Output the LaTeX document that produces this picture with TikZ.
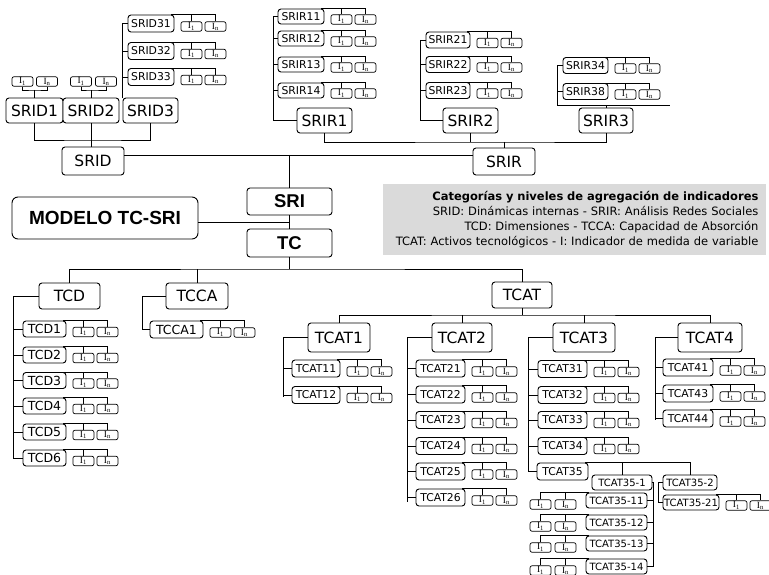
\documentclass[tikz,border=0pt]{standalone}
\usepackage{fontspec}
\setmainfont{DejaVu Sans}
\newfontfamily\headfont{Liberation Sans}
\newfontfamily\ifont{Liberation Serif}
\usepackage{tikz}
\definecolor{legendgray}{RGB}{218,218,218}

\newcommand{\indpair}[1]{%
  \node[nind] (#1a) at ([xshift=17pt,yshift=-3pt]#1.east) {I\textsubscript{1}};
  \node[nind] (#1b) at ([xshift=41pt,yshift=-3pt]#1.east) {I\textsubscript{n}};
  \draw[-] ([xshift=-3pt]#1.north east) -| (#1b.north);
  \draw[-] (#1a.north) -- (#1a.north |- #1.north);
}
\newcommand{\indpairl}[1]{%
  \node[nind] (#1a) at ([xshift=-45pt,yshift=-4pt]#1.west) {I\textsubscript{1}};
  \node[nind] (#1b) at ([xshift=-20pt,yshift=-4pt]#1.west) {I\textsubscript{n}};
  \draw[-] ([xshift=3pt]#1.north west) -| (#1a.north);
  \draw[-] (#1b.north) -- (#1b.north |- #1.north);
}

\begin{document}
\begin{tikzpicture}[x=1pt, y=-1pt, line width=0.8pt,
    nbox/.style={draw, rounded corners=3pt, inner sep=0pt, line width=0.9pt, fill=white},
    nbig/.style={nbox, font=\fontsize{15.5}{16}\selectfont, minimum height=26pt},
    nleaf/.style={nbox, font=\fontsize{10.8}{11}\selectfont, minimum height=16pt},
    nleafd/.style={nbox, font=\fontsize{12.5}{13}\selectfont, minimum height=16pt},
    nleafs/.style={nbox, font=\fontsize{10}{10}\selectfont, minimum height=15pt},
    ncore/.style={nbox, font=\headfont\bfseries\fontsize{18.5}{19}\selectfont, minimum width=85pt, minimum height=27pt},
    nind/.style={draw, rounded corners=2pt, inner sep=0pt, line width=0.7pt, minimum width=21pt, minimum height=9.5pt, font=\ifont\fontsize{9.5}{9.5}\selectfont}]
    \useasboundingbox (0,0) rectangle (769,575);

    \node[nbig, minimum width=57pt, minimum height=25pt] (srid1) at (34.5,110.5) {SRID1};
    \node[nbig, minimum width=56pt, minimum height=25pt] (srid2) at (91,110.5) {SRID2};
    \node[nbig, minimum width=55pt, minimum height=25pt] (srid3) at (150.5,110.5) {SRID3};
    \node[nbig, minimum width=62pt, minimum height=28pt] (srid) at (93,161) {SRID};

    \node[nind] (srid1a) at (22.5,81.5) {I\textsubscript{1}};
    \node[nind] (srid1b) at (47,81.5) {I\textsubscript{n}};
    \coordinate (srid1k) at (34.5,90);
    \draw[-] (srid1a.south) |- (srid1k) -| (srid1b.south);
    \draw[-] (srid1k) -- (srid1.north);
    \node[nind] (srid2a) at (81,81.5) {I\textsubscript{1}};
    \node[nind] (srid2b) at (106,81.5) {I\textsubscript{n}};
    \coordinate (srid2k) at (91,90);
    \draw[-] (srid2a.south) |- (srid2k) -| (srid2b.south);
    \draw[-] (srid2k) -- (srid2.north);

    \foreach \n/\y in {31/23.5,32/51,33/77} {
        \node[nleaf, minimum width=46pt, minimum height=17pt] (srid\n) at (151,\y) {SRID\n};
        \indpair{srid\n}
        \draw[-] (srid\n.west) -- (srid\n.west -| srid3.north west);
    }
    \draw[-] (srid31.west -| srid3.north west) -- (srid3.north west);

    \coordinate (sridbar) at (93,140);
    \draw[-] (srid1.south) |- (sridbar) -| (srid3.south);
    \draw[-] (srid2.south) -- (srid2.south |- srid.north);

    \node[nbig, minimum width=55pt, minimum height=25pt] (srir1) at (324.5,120.5) {SRIR1};
    \node[nbig, minimum width=55pt, minimum height=25pt] (srir2) at (470.5,120.5) {SRIR2};
    \node[nbig, minimum width=54pt, minimum height=25pt] (srir3) at (606,120.5) {SRIR3};
    \node[nbig, minimum width=62pt, minimum height=27pt] (srir) at (504,161.5) {SRIR};

    \coordinate (srir1v) at (273,120.5);
    \foreach \n/\y in {11/16.5,12/38.5,13/64.5,14/90.5} {
        \node[nleaf, minimum width=46pt, minimum height=15pt] (srir\n) at (301,\y) {SRIR\n};
        \indpair{srir\n}
        \draw[-] (srir\n.west) -- (srir\n.west -| srir1v);
    }
    \draw[-] (srir11.west -| srir1v) -- (srir1v) -- (srir1.west);

    \coordinate (srir2v) at (420,120.5);
    \foreach \n/\y in {21/40,22/64.5,23/90.5} {
        \node[nleaf, minimum width=44pt, minimum height=16pt] (srir\n) at (448,\y) {SRIR\n};
        \indpair{srir\n}
        \draw[-] (srir\n.west) -- (srir\n.west -| srir2v);
    }
    \draw[-] (srir21.west -| srir2v) -- (srir2v) -- (srir2.west);

    \coordinate (srir3v) at (557,105);
    \coordinate (srir3e) at (670,105);
    \foreach \n/\y in {34/65.5,38/91.5} {
        \node[nleaf, minimum width=45pt, minimum height=16pt] (srir\n) at (585.5,\y) {SRIR\n};
        \indpair{srir\n}
        \draw[-] (srir\n.west) -- (srir\n.west -| srir3v);
    }
    \draw[-] (srir34.west -| srir3v) -- (srir3v) -- (srir3e);
    \draw[-] (srir3.north) -- (srir3.north |- srir3v);

    \coordinate (srirbar) at (504,142);
    \draw[-] (srir1.south) |- (srirbar) -| (srir3.south);
    \draw[-] (srir2.south) -- (srir2.south |- srirbar);
    \draw[-] (srirbar) -- (srir.north);

    \node[ncore] (sri) at (289.5,201.5) {SRI};
    \node[ncore, minimum height=28pt] (tc) at (289.5,243) {TC};
    \node[nbox, rounded corners=6pt, minimum width=186pt, minimum height=42pt,
        font=\headfont\bfseries\fontsize{19}{19}\selectfont] (modelo) at (105,218) {MODELO TC-SRI};

    \coordinate (hub) at (289.5,155);
    \draw[-] (srid.east |- hub) -- (srir.west |- hub);
    \draw[-] (hub) -- (sri.north);
    \draw[-] (sri.south) -- (tc.north);
    \coordinate (mid) at (289.5,222);
    \draw[-] (modelo.east |- mid) -- (mid);

    \node[fill=legendgray, anchor=north west, inner xsep=8pt, inner ysep=5pt, text width=367pt,
        align=right, minimum height=71pt, font=\fontsize{11.5}{15}\selectfont] (legend) at (383,184)
        {\textbf{Categorías y niveles de agregación de indicadores}\\
        SRID: Dinámicas internas - SRIR: Análisis Redes Sociales\\
        TCD: Dimensiones - TCCA: Capacidad de Absorción\\
        TCAT: Activos tecnológicos - I: Indicador de medida de variable};

    \node[nbig, minimum width=61pt] (tcd) at (69.5,296) {TCD};
    \node[nbig, minimum width=62pt] (tcca) at (197,296) {TCCA};
    \node[nbig, minimum width=60pt] (tcat) at (522,295) {TCAT};

    \coordinate (tcbar) at (289.5,269);
    \draw[-] (tc.south) -- (tcbar);
    \draw[-] (tcd.north) |- (tcbar) -| (tcat.north);
    \draw[-] (tcca.north) -- (tcca.north |- tcbar);

    \coordinate (tcdv) at (13,458);
    \foreach \n/\y in {1/329,2/355,3/380.5,4/406,5/432,6/458} {
        \node[nleafd, minimum width=43pt] (tcd\n) at (44.5,\y) {TCD\n};
        \indpair{tcd\n}
        \draw[-] (tcd\n.west) -- (tcd\n.west -| tcdv);
    }
    \draw[-] (tcd.west) -| (tcdv);

    \node[nleafd, minimum width=53pt, minimum height=17pt] (tcca1) at (176.5,329.5) {TCCA1};
    \indpair{tcca1}
    \coordinate (tccav) at (142,329.5);
    \draw[-] (tcca.west) -| (tccav) -- (tcca1.west);

    \node[nbig, minimum width=62pt, minimum height=29pt] (tcat1) at (339,337.5) {TCAT1};
    \node[nbig, minimum width=60pt, minimum height=29pt] (tcat2) at (462,337.5) {TCAT2};
    \node[nbig, minimum width=62pt, minimum height=29pt] (tcat3) at (584,337.5) {TCAT3};
    \node[nbig, minimum width=64pt, minimum height=29pt] (tcat4) at (710,337.5) {TCAT4};

    \coordinate (tcatbar) at (522,315);
    \draw[-] (tcat.south) -- (tcatbar);
    \draw[-] (tcat1.north) |- (tcatbar) -| (tcat4.north);
    \draw[-] (tcat2.north) -- (tcat2.north |- tcatbar);
    \draw[-] (tcat3.north) -- (tcat3.north |- tcatbar);

    \coordinate (tcat1v) at (283,397);
    \foreach \n/\y in {11/368.5,12/395} {
        \node[nleaf, minimum width=48pt, minimum height=17pt] (tcat\n) at (316,\y) {TCAT\n};
        \indpair{tcat\n}
        \draw[-] (tcat\n.west) -- (tcat\n.west -| tcat1v);
    }
    \draw[-] (tcat1.west) -| (tcat1v);

    \coordinate (tcat2v) at (407,502);
    \foreach \n/\y in {21/368.5,22/394.5,23/420,24/446,25/471.5,26/497.5} {
        \node[nleaf, minimum width=49pt, minimum height=17pt] (tcat\n) at (440.5,\y) {TCAT\n};
        \indpair{tcat\n}
        \draw[-] (tcat\n.west) -- (tcat\n.west -| tcat2v);
    }
    \draw[-] (tcat2.west) -| (tcat2v);

    \coordinate (tcat3v) at (528,471.5);
    \foreach \n/\y in {31/369,32/395,33/420,34/446} {
        \node[nleaf, minimum width=49pt, minimum height=17pt] (tcat\n) at (562.5,\y) {TCAT\n};
        \indpair{tcat\n}
        \draw[-] (tcat\n.west) -- (tcat\n.west -| tcat3v);
    }
    \node[nleaf, minimum width=51pt, minimum height=17pt] (tcat35) at (562.5,471.5) {TCAT35};
    \draw[-] (tcat3.west) -| (tcat3v) -- (tcat35.west);

    \coordinate (tcat4v) at (655,420);
    \foreach \n/\y in {41/367.5,43/393.5,44/418.5} {
        \node[nleaf, minimum width=50pt, minimum height=17pt] (tcat\n) at (688,\y) {TCAT\n};
        \indpair{tcat\n}
        \draw[-] (tcat\n.west) -- (tcat\n.west -| tcat4v);
    }
    \draw[-] (tcat4.west) -| (tcat4v);

    \node[nleafs, minimum width=60pt] (tcat351) at (622,482.5) {TCAT35-1};
    \node[nleafs, minimum width=54pt] (tcat352) at (690,482.5) {TCAT35-2};
    \draw[-] ([xshift=-3pt]tcat35.north east) -| (tcat352.north);
    \draw[-] (tcat351.north) -- (tcat351.north |- tcat35.north);

    \coordinate (t351v) at (653,566.5);
    \foreach \n/\y in {1/500.5,2/522.5,3/543.5,4/566.5} {
        \node[nleafs, minimum width=61pt] (tcat351\n) at (616.5,\y) {TCAT35-1\n};
        \indpairl{tcat351\n}
        \draw[-] (tcat351\n.east) -- (tcat351\n.east -| t351v);
    }
    \draw[-] (tcat351.east) -| (t351v);

    \node[nleafs, minimum width=56pt] (tcat3521) at (691,502.5) {TCAT35-21};
    \indpair{tcat3521}
    \coordinate (t352v) at (658,502.5);
    \draw[-] (tcat352.west) -| (t352v) -- (tcat3521.west);
\end{tikzpicture}
\end{document}
